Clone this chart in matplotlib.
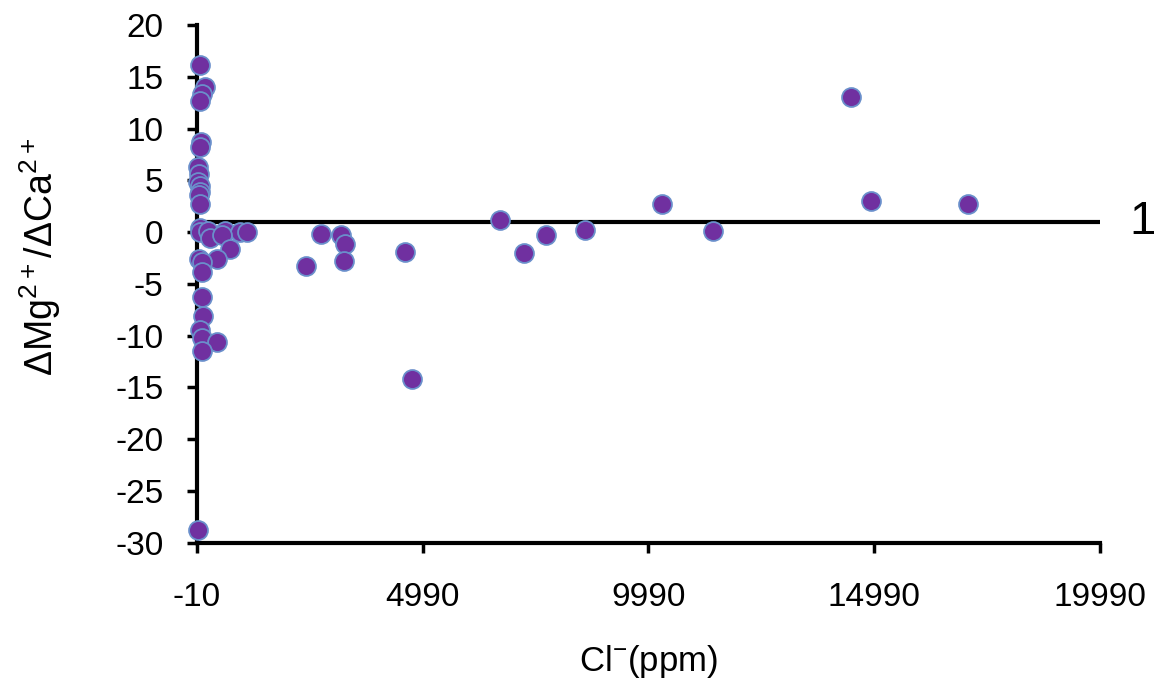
import matplotlib
matplotlib.use("Agg")
import matplotlib.pyplot as plt

plt.rcParams['font.family'] = ['Liberation Sans', 'DejaVu Sans']
plt.rcParams['mathtext.default'] = 'regular'
plt.rcParams['axes.unicode_minus'] = False

# Cl- (ppm) and dMg/dCa values
cl = [56, 167, 101, 56, 78, 56, 12, 34, 12, 56, 56, 34, 56, 56,
      56, 234, 610, 943, 1098, 278, 544, 721, 433, 34, 101, 101,
      101, 123, 56, 101, 433, 101, 12,
      2737, 3180, 3269, 2405, 3247, 4598, 4753,
      6702, 7234, 7722, 8585, 10291, 11421, 14478, 14921, 17070]
ratio = [16.2, 14.0, 13.4, 12.7, 8.7, 8.2, 6.3, 5.6, 4.9, 4.5, 3.9, 3.6, 2.7, 0.4,
         0.0, 0.1, 0.1, 0.0, 0.0, -0.6, -0.3, -1.6, -2.6, -2.6, -2.9, -3.8,
         -6.3, -8.1, -9.4, -10.2, -10.6, -11.5, -28.8,
         -0.2, -0.3, -1.1, -3.3, -2.8, -1.9, -14.2,
         1.2, -2.0, -0.3, 0.2, 2.7, 0.1, 13.1, 3.0, 2.7]
ref_value = 1
xticks = [-10, 4990, 9990, 14990, 19990]

fig = plt.figure(figsize=(11.59, 6.81), dpi=100)
ax = fig.add_axes([0.170, 0.203, 0.779, 0.760])

ax.plot([-10, 19990], [ref_value, ref_value], color='black', lw=3, zorder=1)
ax.scatter(cl, ratio, s=185, color='#7030A0', edgecolors='#6A8FCB',
           linewidths=1.3, zorder=3, clip_on=False)
ax.text(1.047, ref_value, '1', transform=ax.get_yaxis_transform(),
        fontsize=34, ha='center', va='center')

ax.set_xlim(-10, 19990)
ax.set_ylim(-30, 20)
ax.set_xticks(xticks)
ax.set_yticks(range(-30, 21, 5))
for s in ['top', 'right']:
    ax.spines[s].set_visible(False)
for s in ['left', 'bottom']:
    ax.spines[s].set_linewidth(3)
ax.tick_params(direction='out', length=7, width=2.5, labelsize=24)
ax.tick_params(axis='y', pad=17)
ax.tick_params(axis='x', pad=21)

ax.set_xlabel(r'Cl$^{-}$(ppm)', fontsize=25, labelpad=22)
ax.set_ylabel(r'$\Delta$Mg$^{2+}$/$\Delta$Ca$^{2+}$', fontsize=27)
ax.yaxis.set_label_coords(-0.148, 0.553)

fig.savefig('out.png', dpi=100)
